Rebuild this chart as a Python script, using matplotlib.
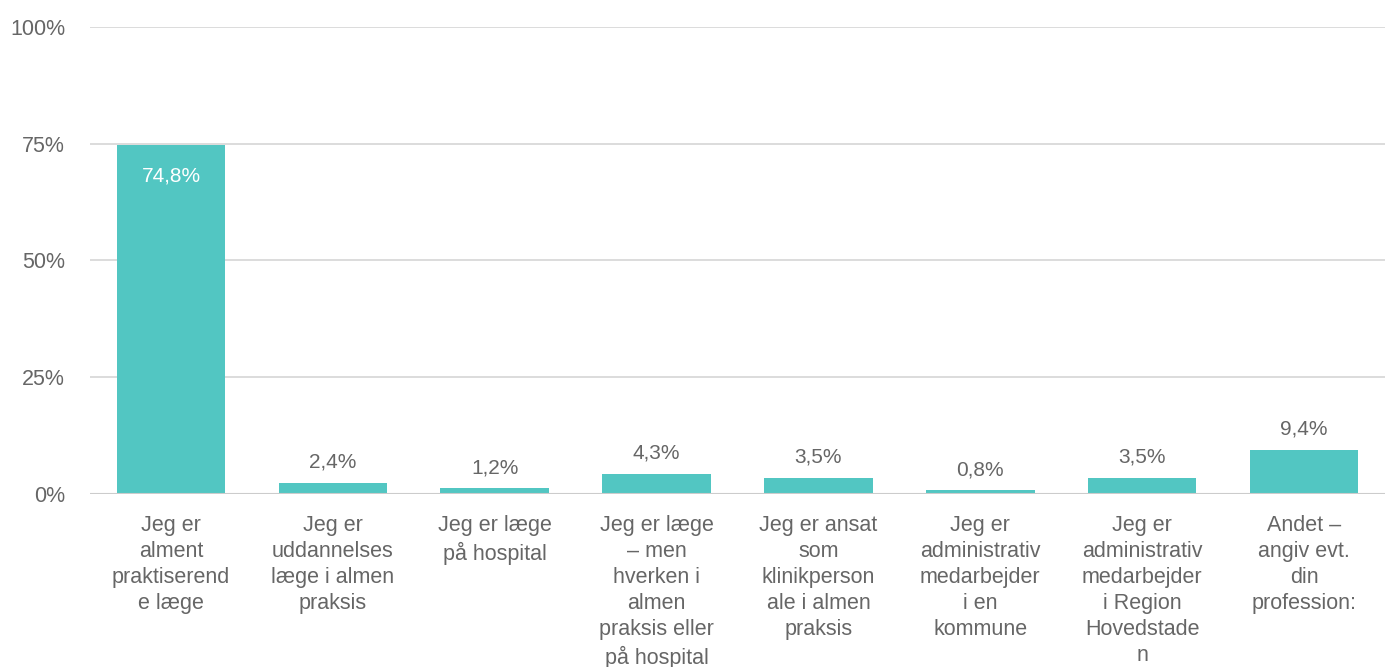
import matplotlib
matplotlib.use('Agg')
import matplotlib.pyplot as plt
import matplotlib.transforms as mtransforms
from matplotlib.ticker import FuncFormatter

plt.rcParams['font.family'] = ['Liberation Sans', 'DejaVu Sans']

categories = [
    "Jeg er\nalment\npraktiserend\ne læge",
    "Jeg er\nuddannelses\nlæge i almen\npraksis",
    "Jeg er læge\npå hospital",
    "Jeg er læge\n– men\nhverken i\nalmen\npraksis eller\npå hospital",
    "Jeg er ansat\nsom\nklinikperson\nale i almen\npraksis",
    "Jeg er\nadministrativ\nmedarbejder\ni en\nkommune",
    "Jeg er\nadministrativ\nmedarbejder\ni Region\nHovedstade\nn",
    "Andet –\nangiv evt.\ndin\nprofession:",
]
values = [74.8, 2.4, 1.2, 4.3, 3.5, 0.8, 3.5, 9.4]
yticks = [0, 25, 50, 75, 100]

bar_color = '#52c6c2'
text_color = '#666666'

fig = plt.figure(figsize=(13.85, 6.67), dpi=100)
ax = fig.add_axes([0.065, 0.2594, 0.935, 0.7001])

x = list(range(len(values)))
ax.bar(x, values, width=0.67, color=bar_color, zorder=3)
ax.set_xlim(-0.5, len(values) - 0.5)
ax.set_ylim(0, 100)

ax.set_yticks(yticks)
ax.yaxis.set_major_formatter(FuncFormatter(lambda v, p: f"{int(v)}%"))
ax.tick_params(axis='y', length=0, pad=18, labelsize=15.5, labelcolor=text_color)
ax.tick_params(axis='x', length=0, labelbottom=False)
ax.grid(axis='y', color='#d9d9d9', linewidth=1.3, zorder=0)
for s in ax.spines.values():
    s.set_visible(False)
ax.axhline(0, color='#cccccc', linewidth=1.5, zorder=4)

for i, v in enumerate(values):
    lbl = f"{v:.1f}%".replace('.', ',')
    if v > 50:
        ax.annotate(lbl, (i, v), xytext=(0, -16), textcoords='offset points',
                    ha='center', va='top', color='white', fontsize=15)
    else:
        ax.annotate(lbl, (i, v), xytext=(0, 8), textcoords='offset points',
                    ha='center', va='bottom', color=text_color, fontsize=15)

trans = mtransforms.blended_transform_factory(ax.transData, ax.transAxes)
for i, c in enumerate(categories):
    ax.annotate(c, (i, 0), xycoords=trans, xytext=(0, -15),
                textcoords='offset points', ha='center', va='top',
                color=text_color, fontsize=15.5, linespacing=1.32,
                annotation_clip=False)

fig.savefig('out.png', dpi=100)
